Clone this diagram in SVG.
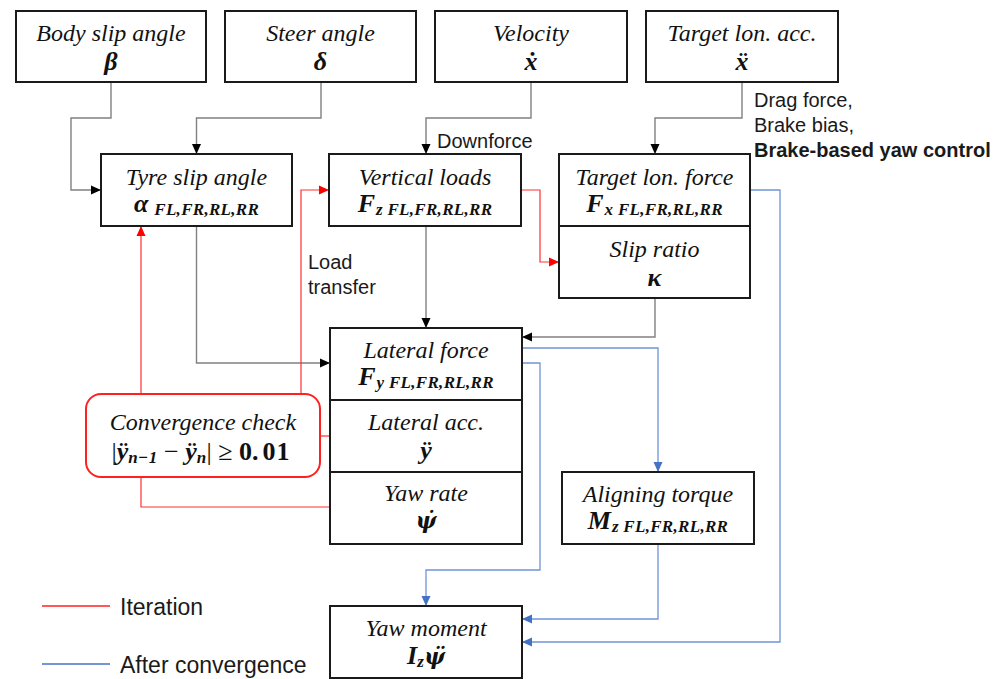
<svg xmlns="http://www.w3.org/2000/svg" width="1003" height="679" viewBox="0 0 1003 679">
<style>
.box{fill:#fff;stroke:#1a1a1a;stroke-width:2}
.t{font-family:"Liberation Serif","DejaVu Serif",serif;font-style:italic;font-size:24px;fill:#111;text-anchor:middle}
.s{font-family:"Liberation Serif","DejaVu Serif",serif;font-style:italic;font-weight:bold;font-size:26px;fill:#111;text-anchor:middle}
.dj{font-family:"DejaVu Serif",serif;font-size:22px}
.sub{font-size:17px;letter-spacing:0.3px}
.ann{font-family:"Liberation Sans",Arial,sans-serif;font-size:20px;fill:#1a1a1a}
.leg{font-family:"Liberation Sans",Arial,sans-serif;font-size:23px;fill:#1a1a1a}
.g{fill:none;stroke:#808080;stroke-width:1.4}
.r{fill:none;stroke:#ff3030;stroke-width:1.2}
.b{fill:none;stroke:#7094d8;stroke-width:1.3}
</style>
<defs>
<marker id="ak" markerUnits="userSpaceOnUse" markerWidth="11" markerHeight="10" refX="10" refY="5" orient="auto"><path d="M0,0.5 L10,5 L0,9.5 z" fill="#000"/></marker>
<marker id="ar" markerUnits="userSpaceOnUse" markerWidth="11" markerHeight="10" refX="10" refY="5" orient="auto"><path d="M0,0.5 L10,5 L0,9.5 z" fill="#ff0000"/></marker>
<marker id="ab" markerUnits="userSpaceOnUse" markerWidth="11" markerHeight="10" refX="10" refY="5" orient="auto"><path d="M0,0.5 L10,5 L0,9.5 z" fill="#4472c4"/></marker>
</defs>

<g id="connectors">
<path class="g" d="M111,82 V118 H71 V190 H101" marker-end="url(#ak)"/>
<path class="g" d="M321,82 V118 H196.5 V154" marker-end="url(#ak)"/>
<path class="g" d="M531,82 V118 H426 V154" marker-end="url(#ak)"/>
<path class="g" d="M742,82 V118 H655 V154" marker-end="url(#ak)"/>
<path class="g" d="M196.5,226 V363 H330" marker-end="url(#ak)"/>
<path class="g" d="M426,226 V328" marker-end="url(#ak)"/>
<path class="g" d="M655,298 V337 H522" marker-end="url(#ak)"/>
<path class="r" d="M521,190 H540 V262 H559" marker-end="url(#ar)"/>
<path class="r" d="M141,394 V226" marker-end="url(#ar)"/>
<path class="r" d="M301,394 V190 H329" marker-end="url(#ar)"/>
<path class="r" d="M330,436 H320"/>
<path class="r" d="M330,507 H141 V477"/>
<path class="b" d="M750,190 H780 V642 H522" marker-end="url(#ab)"/>
<path class="b" d="M522,348 H658 V472" marker-end="url(#ab)"/>
<path class="b" d="M522,363 H540 V570 H426 V606" marker-end="url(#ab)"/>
<path class="b" d="M658,544 V619 H522" marker-end="url(#ab)"/>
</g>

<g id="body-slip">
<rect class="box" x="16" y="11" width="190" height="71"/>
<text class="t" x="111" y="41">Body slip angle</text>
<text class="s" x="111" y="70">β</text>
</g>
<g id="steer">
<rect class="box" x="225" y="11" width="191" height="71"/>
<text class="t" x="320.5" y="41">Steer angle</text>
<text class="s" x="320.5" y="70">δ</text>
</g>
<g id="velocity">
<rect class="box" x="435" y="11" width="192" height="71"/>
<text class="t" x="531" y="41">Velocity</text>
<text class="s" x="531" y="70">ẋ</text>
</g>
<g id="target-acc">
<rect class="box" x="646" y="11" width="192" height="71"/>
<text class="t" x="742" y="41">Target lon. acc.</text>
<text class="s" x="742" y="70">ẍ</text>
</g>

<g id="tyre-slip">
<rect class="box" x="101" y="154" width="191" height="72"/>
<text class="t" x="196.5" y="185">Tyre slip angle</text>
<text class="s" x="196.5" y="212">α<tspan class="sub" dx="6" dy="3">FL,FR,RL,RR</tspan></text>
</g>
<g id="vertical-loads">
<rect class="box" x="329" y="154" width="192" height="72"/>
<text class="t" x="425" y="185">Vertical loads</text>
<text class="s" x="425" y="212">F<tspan class="sub" dx="1" dy="3">z FL,FR,RL,RR</tspan></text>
</g>
<g id="target-force">
<rect class="box" x="559" y="154" width="191" height="72"/>
<text class="t" x="654.5" y="185">Target lon. force</text>
<text class="s" x="654.5" y="212">F<tspan class="sub" dx="1" dy="3">x FL,FR,RL,RR</tspan></text>
</g>
<g id="slip-ratio">
<rect class="box" x="559" y="226" width="191" height="72"/>
<text class="t" x="654.5" y="257">Slip ratio</text>
<text class="s" x="654.5" y="286">κ</text>
</g>

<g id="lateral-force">
<rect class="box" x="330" y="328" width="192" height="72"/>
<text class="t" x="426" y="358">Lateral force</text>
<text class="s" x="426" y="385">F<tspan class="sub" dx="1" dy="3">y FL,FR,RL,RR</tspan></text>
</g>
<g id="lateral-acc">
<rect class="box" x="330" y="400" width="192" height="72"/>
<text class="t" x="426" y="430">Lateral acc.</text>
<text class="s" x="426" y="459">ÿ</text>
</g>
<g id="yaw-rate">
<rect class="box" x="330" y="472" width="192" height="72"/>
<text class="t" x="426" y="501">Yaw rate</text>
<text class="s dj" x="426" y="528">ψ̇</text>
</g>

<g id="convergence">
<rect x="86" y="394" width="234" height="83" rx="15" fill="#fff" stroke="#ff2020" stroke-width="2"/>
<text class="t" x="203" y="430">Convergence check</text>
<text class="s" x="201" y="460" font-size="27px"><tspan font-style="normal" font-weight="normal">|</tspan>ÿ<tspan class="sub" font-size="19px" dy="3">n−1</tspan><tspan dy="-3" font-style="normal" font-weight="normal"> − </tspan>ÿ<tspan class="sub" font-size="19px" dy="3">n</tspan><tspan dy="-3" font-style="normal" font-weight="normal">| ≥ </tspan><tspan font-style="normal">0.</tspan><tspan font-style="normal" dx="4" letter-spacing="1px">01</tspan></text>
</g>

<g id="aligning-torque">
<rect class="box" x="562" y="472" width="192" height="72"/>
<text class="t" x="658" y="502">Aligning torque</text>
<text class="s" x="658" y="529">M<tspan class="sub" dx="1" dy="3">z FL,FR,RL,RR</tspan></text>
</g>

<g id="yaw-moment">
<rect class="box" x="330" y="606" width="192" height="72"/>
<text class="t" x="426" y="636">Yaw moment</text>
<text class="s" x="426" y="664">I<tspan class="sub" dy="3">z</tspan><tspan class="dj" dy="-3">ψ̈</tspan></text>
</g>

<g id="annotations">
<text class="ann" x="437" y="148">Downforce</text>
<text class="ann" x="754" y="107">Drag force,</text>
<text class="ann" x="754" y="132">Brake bias,</text>
<text class="ann" x="754" y="157" font-weight="bold">Brake-based yaw control</text>
<text class="ann" x="308" y="269">Load</text>
<text class="ann" x="308" y="294">transfer</text>
</g>

<g id="legend">
<line x1="42" y1="606" x2="110" y2="606" stroke="#ff2020" stroke-width="1.5"/>
<text class="leg" x="120" y="615">Iteration</text>
<line x1="42" y1="664" x2="110" y2="664" stroke="#4472c4" stroke-width="1.5"/>
<text class="leg" x="120" y="673">After convergence</text>
</g>
</svg>
